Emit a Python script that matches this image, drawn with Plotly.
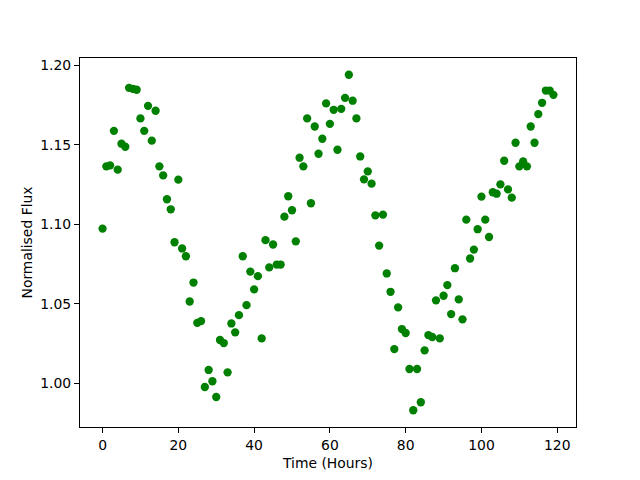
import plotly.graph_objects as go

hours = list(range(120))
flux = [
    1.0973, 1.1364, 1.1370, 1.1587, 1.1343, 1.1506, 1.1487, 1.1857, 1.1851, 1.1845,
    1.1665, 1.1587, 1.1744, 1.1525, 1.1713, 1.1364, 1.1307, 1.1157, 1.1094, 1.0887,
    1.1280, 1.0848, 1.0799, 1.0515, 1.0634, 1.0381, 1.0392, 0.9978, 1.0085, 1.0014,
    0.9915, 1.0273, 1.0254, 1.0070, 1.0377, 1.0321, 1.0429, 1.0799, 1.0492, 1.0703,
    1.0591, 1.0674, 1.0283, 1.0900, 1.0729, 1.0873, 1.0747, 1.0747, 1.1048, 1.1176,
    1.1088, 1.0893, 1.1418, 1.1364, 1.1665, 1.1132, 1.1614, 1.1443, 1.1537, 1.1759,
    1.1631, 1.1719, 1.1468, 1.1725, 1.1794, 1.1939, 1.1776, 1.1665, 1.1426, 1.1282,
    1.1332, 1.1255, 1.1056, 1.0866, 1.1061, 1.0691, 1.0576, 1.0216, 1.0478, 1.0342,
    1.0317, 1.0091, 0.9832, 1.0091, 0.9882, 1.0208, 1.0304, 1.0292, 1.0522, 1.0283,
    1.0551, 1.0618, 1.0436, 1.0724, 1.0528, 1.0403, 1.1029, 1.0785, 1.0841, 1.0969,
    1.1174, 1.1029, 1.0920, 1.1201, 1.1192, 1.1251, 1.1399, 1.1219, 1.1167, 1.1512,
    1.1364, 1.1395, 1.1364, 1.1614, 1.1512, 1.1692, 1.1763, 1.1840, 1.1840, 1.1813,
]
x_ticks = [0, 20, 40, 60, 80, 100, 120]
y_ticks = [1.00, 1.05, 1.10, 1.15, 1.20]

xmin, xmax = min(hours), max(hours)
ymin, ymax = min(flux), max(flux)
xpad = 0.05 * (xmax - xmin)
ypad = 0.05 * (ymax - ymin)

fig = go.Figure(go.Scatter(
    x=hours, y=flux, mode="markers",
    marker=dict(color="#008000", size=8.3, line=dict(width=0)),
))

font = dict(family="DejaVu Sans", size=13.9, color="black")
axis_common = dict(
    showline=True, mirror=True, linecolor="black", linewidth=1,
    ticks="outside", ticklen=5, tickwidth=1, tickcolor="black",
    showgrid=False, zeroline=False, tickfont=font, automargin=False,
)
fig.update_layout(
    width=640, height=480,
    margin=dict(l=80, r=64, t=58, b=53, pad=0),
    paper_bgcolor="white", plot_bgcolor="white",
    font=font, showlegend=False, hovermode=False,
    xaxis=dict(range=[xmin - xpad, xmax + xpad], tickvals=x_ticks,
               title=dict(text="Time (Hours)", font=font, standoff=6), **axis_common),
    yaxis=dict(range=[ymin - ypad, ymax + ypad], tickvals=y_ticks, tickformat=".2f",
               title=dict(text="Normalised Flux", font=font, standoff=4), **axis_common),
)
fig.write_html("out.html", config={"displayModeBar": False},
               post_script="document.body.style.margin='0';")
